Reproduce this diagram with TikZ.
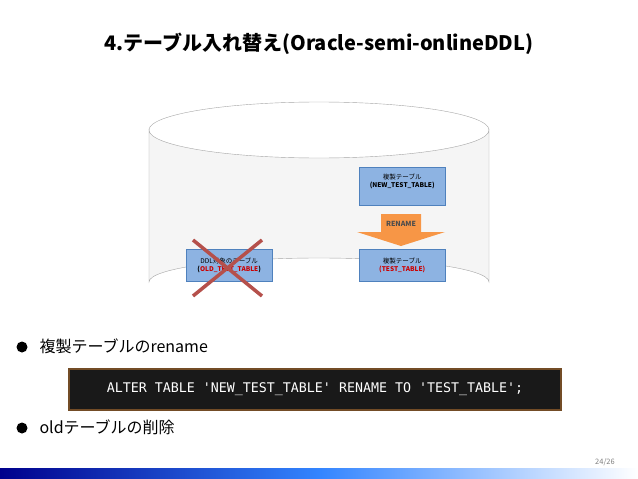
\documentclass[tikz,border=0pt]{standalone}
\usepackage{fontspec}
\setmainfont{Noto Sans CJK JP}
\newfontfamily\codefont{DejaVu Sans Mono}
\definecolor{boxblue}{HTML}{8DB3E2}
\definecolor{boxedge}{HTML}{4F81BD}
\definecolor{crossred}{HTML}{B5504B}
\definecolor{orng}{HTML}{F79646}
\tikzset{
 tbl/.style={draw=boxedge,fill=boxblue,minimum width=86pt,minimum height=32pt,font=\fontsize{6.5}{8}\selectfont,align=center,inner sep=1pt},
 bullet/.style={circle,fill=black,inner sep=0pt,minimum size=11pt},
 btext/.style={anchor=west,font=\fontsize{16}{18}\selectfont}
}
\begin{document}
\begin{tikzpicture}[x=1pt,y=-1pt]
\useasboundingbox (0,0) rectangle (638,479);
\fill[white] (0,0) rectangle (638,479);
\node (title) at (319,44) {\fontsize{20}{24}\selectfont\bfseries 4.テーブル入れ替え(Oracle-semi-onlineDDL)};
% cylinder
\filldraw[draw=gray!70,fill=gray!8] (149,130) -- (149,282) arc[start angle=180,end angle=360,x radius=170,y radius=24] -- (489,130) arc[start angle=0,end angle=180,x radius=170,y radius=28] -- cycle;
\draw[gray!70] (149,130) arc[start angle=180,end angle=360,x radius=170,y radius=28];
\node[tbl,minimum height=38pt,anchor=north west,text depth=10pt] (new) at (359,167) {複製テーブル\\\textbf{(NEW\_TEST\_TABLE)}};
\node[tbl,anchor=north west] (test) at (359,249) {複製テーブル\\\textbf{\color{red!80!black}(TEST\_TABLE)}};
\node[tbl,anchor=north west] (old) at (186,249) {DDL対象のテーブル\\\textbf{(\color{red!80!black}OLD\_TEST\_TABLE\color{black})}};
\fill[orng] (381,214) -- (421,214) -- (421,232) -- (445,232) -- (401,246) -- (357,232) -- (381,232) -- cycle;
\node[font=\fontsize{7}{8}\selectfont\bfseries,text=black!70] (rentxt) at (401,224) {RENAME};
\draw[crossred,line width=3.5pt] (193,240) -- (262,296) (262,240) -- (193,296);
% bullets
\node[bullet] (b1) at (22,347) {};
\node[btext] (t1) at (36,346) {複製テーブルのrename};
\node[draw=brown!60!black,line width=2pt,fill=black!90,minimum width=492pt,minimum height=41pt,text=white,font=\codefont\fontsize{13.3}{15}\selectfont] (code) at (315,389) {ALTER TABLE 'NEW\_TEST\_TABLE' RENAME TO 'TEST\_TABLE';};
\node[bullet] (b2) at (22,428) {};
\node[btext] (t2) at (36,427) {oldテーブルの削除};
\node[font=\fontsize{7.5}{8}\selectfont,text=gray] (pg) at (605,462) {24/26};
\shade[left color=blue!55!black, right color=blue!60!cyan!80] (0,468) rectangle (319,479);
\shade[left color=blue!60!cyan!80, right color=white] (319,468) rectangle (638,479);
\end{tikzpicture}
\end{document}
